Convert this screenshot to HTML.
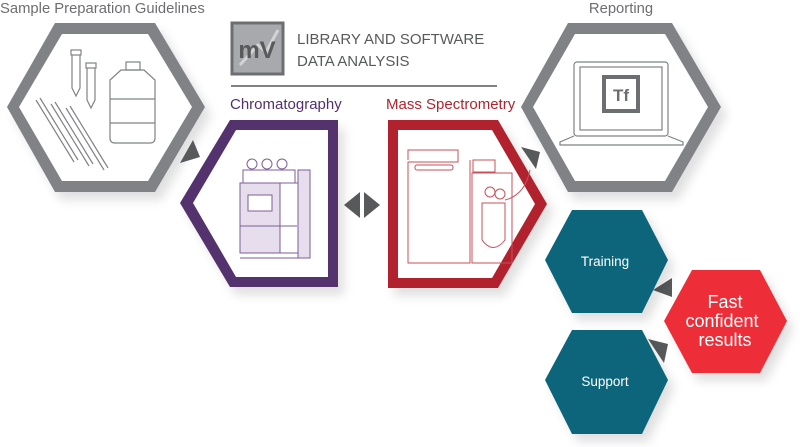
<!DOCTYPE html>
<html><head><meta charset="utf-8"><style>
html,body{margin:0;padding:0;background:#fff;}
svg{display:block;font-family:"Liberation Sans",sans-serif;}
</style></head><body>
<svg width="800" height="447" viewBox="0 0 800 447" xmlns="http://www.w3.org/2000/svg">
<defs>
<filter id="sh" x="-20%" y="-20%" width="150%" height="150%"><feDropShadow dx="6" dy="8" stdDeviation="5" flood-color="#000" flood-opacity="0.12"/></filter>
</defs>
<text x="0" y="13" font-size="14.8" fill="#6d6e71">Sample Preparation Guidelines</text>
<text x="621" y="13" font-size="14.8" fill="#6d6e71" text-anchor="middle">Reporting</text>
<rect x="232" y="23" width="51" height="51" fill="#a7a9ac" stroke="#6d6e71" stroke-width="3"/>
<path d="M240 65 L258 45 L266 52 L278 30" stroke="#d1d3d4" stroke-width="3" fill="none"/>
<text x="257" y="58" font-size="24" font-weight="bold" fill="#58595b" text-anchor="middle">mV</text>
<text x="297" y="44" font-size="15" fill="#58595b">LIBRARY AND SOFTWARE</text>
<text x="297" y="66" font-size="15" fill="#58595b">DATA ANALYSIS</text>
<line x1="231" y1="86" x2="497" y2="86" stroke="#808285" stroke-width="2"/>
<text x="230" y="109" font-size="15" fill="#52306e">Chromatography</text>
<text x="386" y="109" font-size="15" fill="#b1232f">Mass Spectrometry</text>

<g filter="url(#sh)">
<polygon points="7,107 55,23 155,23 205,107 155,192 55,192" fill="#808285"/>
<polygon points="19,107 62,34 148,34 192,107 148,181 62,181" fill="#fff"/>
</g>
<g stroke="#808285" stroke-width="1.2" fill="none">
<rect x="71" y="50" width="10" height="5"/><path d="M72 55 V88 L76 96 L80 88 V55"/>
<rect x="86" y="63" width="10" height="5"/><path d="M87 68 V100 L91 108 L95 100 V68"/>
<rect x="126" y="62" width="14" height="8"/>
<path d="M121 70 H144 L155 80 V138 Q155 143 150 143 H115 Q110 143 110 138 V80 Z"/>
<line x1="110" y1="99" x2="155" y2="99"/><line x1="110" y1="123" x2="155" y2="123"/>
<path d="M36 100 L74 162 M40 98 L78 160"/>
<path d="M51 104 L89 166 M55 102 L93 164"/>
<path d="M66 108 L104 170 M70 106 L108 168"/>
</g>

<g filter="url(#sh)">
<polygon points="521,107 568,23 672,23 721,107 672,192 568,192" fill="#808285"/>
<polygon points="533,107 575,34 665,34 708,107 665,181 575,181" fill="#fff"/>
</g>
<g stroke="#808285" stroke-width="1.2" fill="none">
<rect x="574" y="62" width="94" height="74" rx="3"/>
<rect x="580" y="67" width="82" height="63"/>
<path d="M574 136 L560 142 V145 H683 V142 L668 136"/>
</g>
<rect x="604" y="77" width="34" height="34" fill="#fff" stroke="#6d6e71" stroke-width="4"/>
<text x="621" y="101" font-size="17" font-weight="bold" fill="#6d6e71" text-anchor="middle">Tf</text>

<g filter="url(#sh)">
<polygon points="180,203 230,120 338,120 338,287 230,287" fill="#52306e"/>
<polygon points="193,203 236,130 328,130 328,277 236,277" fill="#fff"/>
</g>
<g stroke="#7e5d99" stroke-width="1" fill="none">
<rect x="240" y="183" width="70" height="70"/>
<rect x="240" y="183" width="40" height="70" fill="#e6dded"/>
<rect x="248" y="195" width="24" height="16" fill="#fff"/>
<line x1="240" y1="226" x2="297" y2="226"/>
<rect x="298" y="170" width="12" height="88" fill="#e6dded"/>
<rect x="243" y="170" width="52" height="13"/>
<circle cx="252" cy="164" r="5"/><circle cx="267" cy="164" r="5"/><circle cx="282" cy="164" r="5"/>
<line x1="240" y1="258" x2="310" y2="258"/>
</g>

<g filter="url(#sh)">
<polygon points="388,120 498,120 547,204 498,288 388,288" fill="#b1232f"/>
<polygon points="398,130 492,130 535,204 492,278 398,278" fill="#fff"/>
</g>
<g stroke="#c9505a" stroke-width="1" fill="none">
<path d="M408 160 V150 H458 V162 H408 V263 H470 V160"/>
<rect x="415" y="165" width="38" height="5" rx="2"/>
<rect x="472" y="173" width="40" height="90"/>
<rect x="473" y="160" width="22" height="12"/>
<path d="M482 203 H505 V240 Q493 255 482 240 Z"/>
<circle cx="490" cy="192" r="5"/><circle cx="500" cy="194" r="5"/>
<path d="M505 200 Q525 195 530 170"/>
</g>

<g fill="#58595b">
<polygon points="180,163 200,157 193,140"/>
<polygon points="344,205 360,192 360,218"/>
<polygon points="364,192 380,205 364,218"/>
<polygon points="521,147 540,152 536,169"/>
<polygon points="653,290 672,278 672,297"/>
<polygon points="648,339 668,344 664,363"/>
</g>

<g filter="url(#sh)">
<polygon points="545,260 572,210 642,210 668,260 642,313 572,313" fill="#0b657b"/>
<polygon points="545,380 572,330 642,330 668,380 642,434 572,434" fill="#0b657b"/>
<polygon points="664,321 692,270 760,270 787,321 760,373 692,373" fill="#ed2f37"/>
</g>
<text x="605" y="266" font-size="13.5" fill="#fff" text-anchor="middle">Training</text>
<text x="605" y="386" font-size="13.5" fill="#fff" text-anchor="middle">Support</text>
<text x="725" y="308" font-size="18" fill="#fff" text-anchor="middle">Fast</text>
<text x="722" y="327" font-size="18" fill="#fff" text-anchor="middle">confident</text>
<text x="725" y="346" font-size="18" fill="#fff" text-anchor="middle">results</text>
</svg>
</body></html>
